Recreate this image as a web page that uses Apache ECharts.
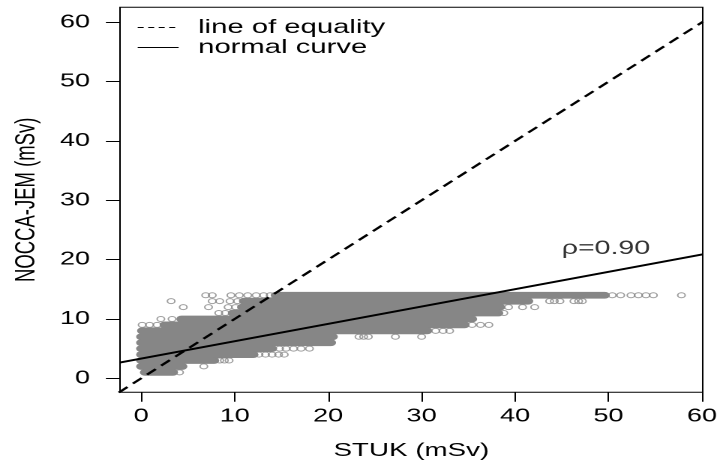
<!DOCTYPE html>
<html>
<head>
<meta charset="utf-8">
<title>STUK vs NOCCA-JEM</title>
<script src="https://cdn.jsdelivr.net/npm/echarts@6/dist/echarts.min.js"></script>
<style>
html,body{margin:0;padding:0;background:#fff;overflow:hidden;}
/* the source picture is stretched sideways, so the chart is drawn narrow and widened */
#main{width:480.67px;height:468px;transform:scaleX(1.5);transform-origin:0 0;}
</style>
</head>
<body>
<div id="main"></div>
<script>
// dense rows of overlapping circles: [NOCCA-JEM value, STUK from, STUK to]
var denseRuns = [
  [14, 14.4, 49.6],
  [13, 11.0, 41.4],
  [12, 10.8, 38.4],
  [11, 9.8, 38.2],
  [10, 4.3, 35.4],
  [9, 2.5, 34.6],
  [8, 0.1, 30.6],
  [7, 0.0, 20.5],
  [6, 0.0, 20.3],
  [5, 0.0, 14.0],
  [4, 0.0, 12.0],
  [3, 0.0, 7.8],
  [2, 0.0, 4.4],
  [1, 0.4, 3.4]
];
// single open circles: [STUK, NOCCA-JEM]
var openCircles = [
  [6.9, 14], [7.6, 14], [9.6, 14], [10.5, 14], [11.4, 14], [12.3, 14], [13.1, 14], [13.8, 14],
  [50.4, 14], [51.3, 14], [52.4, 14], [53.2, 14], [54.0, 14], [54.8, 14], [57.8, 14],
  [3.2, 13], [7.6, 13], [8.4, 13], [9.5, 13], [10.3, 13],
  [43.7, 13], [44.2, 13], [44.8, 13], [46.3, 13], [46.8, 13], [47.2, 13],
  [4.5, 12], [7.2, 12], [9.3, 12], [10.1, 12], [39.3, 12], [40.8, 12], [42.1, 12],
  [8.3, 11], [9.0, 11], [38.8, 11],
  [2.1, 10], [3.3, 10],
  [0.1, 9], [0.9, 9], [1.7, 9], [35.4, 9], [36.3, 9], [37.2, 9],
  [31.5, 8], [32.3, 8], [33.0, 8],
  [23.3, 7], [23.8, 7], [24.3, 7], [27.2, 7], [30.0, 7],
  [14.8, 5], [15.5, 5], [16.3, 5], [17.1, 5], [18.0, 5],
  [12.6, 4], [13.3, 4], [14.0, 4], [14.7, 4], [15.3, 4],
  [8.4, 3], [8.9, 3], [9.4, 3],
  [6.7, 2],
  [4.1, 1]
];
var equalityLine = [[-2.4, -2.4], [60.1, 60.1]];
var fitLine = [[-2.3, 2.65], [60.1, 20.9]];
var rhoText = 'ρ=0.90';
var rhoAt = [[45.0, 21.8]];
var xTicks = [0, 10, 20, 30, 40, 50, 60];
var yTicks = [0, 10, 20, 30, 40, 50, 60];

var font = 'Liberation Sans, Arial, sans-serif';
var pointGray = '#868686';

var myChart = echarts.init(document.getElementById('main'), null, {devicePixelRatio: 2});
var option = {
  animation: false,
  grid: {
    left: 78.2, right: 10.5, top: 7.3, bottom: 75.7,
    show: true, borderColor: '#000', borderWidth: 1
  },
  legend: {
    left: 91.3, top: 17.5, orient: 'vertical', padding: 0,
    itemWidth: 27.3, itemHeight: 12, itemGap: 0,
    selectedMode: false,
    itemStyle: {color: 'transparent', borderWidth: 0},
    textStyle: {fontFamily: font, fontSize: 19.5, color: '#000', lineHeight: 18.5, padding: [0, 0, 0, 8]},
    data: [
      {name: 'line of equality', lineStyle: {width: 1, type: [4, 3]}},
      {name: 'normal curve', lineStyle: {width: 1}}
    ]
  },
  xAxis: {
    type: 'value', min: -2.27, max: 60.08,
    name: 'STUK (mSv)', nameLocation: 'middle', nameGap: 48.5, nameMoveOverlap: false,
    nameTextStyle: {fontFamily: font, fontSize: 18.5, color: '#000', lineHeight: 20},
    axisLine: {show: false, onZero: false},
    axisTick: {show: true, inside: false, length: 9.4, lineStyle: {color: '#000', width: 1}, customValues: xTicks},
    axisLabel: {fontFamily: font, fontSize: 18, color: '#000', lineHeight: 18, margin: 15, customValues: xTicks},
    splitLine: {show: false}
  },
  yAxis: {
    type: 'value', min: -2.36, max: 62.53,
    name: 'NOCCA-JEM (mSv)', nameLocation: 'middle', nameGap: 52, nameMoveOverlap: false,
    nameTextStyle: {fontFamily: font, fontSize: 18.5, color: '#000', lineHeight: 20},
    axisLine: {show: false, onZero: false},
    axisTick: {show: true, inside: false, length: 9.4, lineStyle: {color: '#000', width: 1}, customValues: yTicks},
    axisLabel: {fontFamily: font, fontSize: 18, color: '#000', margin: 20, customValues: yTicks},
    splitLine: {show: false}
  },
  series: [
    {
      // solid gray where the circles pile up
      type: 'custom',
      silent: true,
      data: denseRuns,
      encode: {x: [1, 2], y: 0},
      z: 1,
      renderItem: function (params, api) {
        var y = api.value(0);
        var p1 = api.coord([api.value(1), y]);
        var p2 = api.coord([api.value(2), y]);
        var r = 3.4;
        return {
          type: 'rect',
          shape: {x: p1[0] - r, y: p1[1] - r, width: p2[0] - p1[0] + 2 * r, height: 2 * r, r: r},
          style: {fill: pointGray}
        };
      }
    },
    {
      type: 'scatter',
      silent: true,
      data: openCircles,
      symbol: 'circle',
      symbolSize: 5,
      z: 2,
      itemStyle: {color: 'transparent', borderColor: pointGray, borderWidth: 1}
    },
    {
      name: 'line of equality',
      type: 'line',
      data: equalityLine,
      symbol: 'none',
      z: 3,
      lineStyle: {color: '#000', width: 2, type: [8, 5]},
      itemStyle: {color: '#000'}
    },
    {
      name: 'normal curve',
      type: 'line',
      data: fitLine,
      symbol: 'none',
      z: 3,
      lineStyle: {color: '#000', width: 2},
      itemStyle: {color: '#000'}
    },
    {
      type: 'scatter',
      silent: true,
      data: rhoAt,
      symbolSize: 0,
      z: 4,
      label: {
        show: true, position: [0, 0], align: 'left', verticalAlign: 'middle',
        formatter: rhoText, fontFamily: font, fontSize: 19, color: '#000'
      }
    }
  ]
};
myChart.setOption(option);
</script>
</body>
</html>
